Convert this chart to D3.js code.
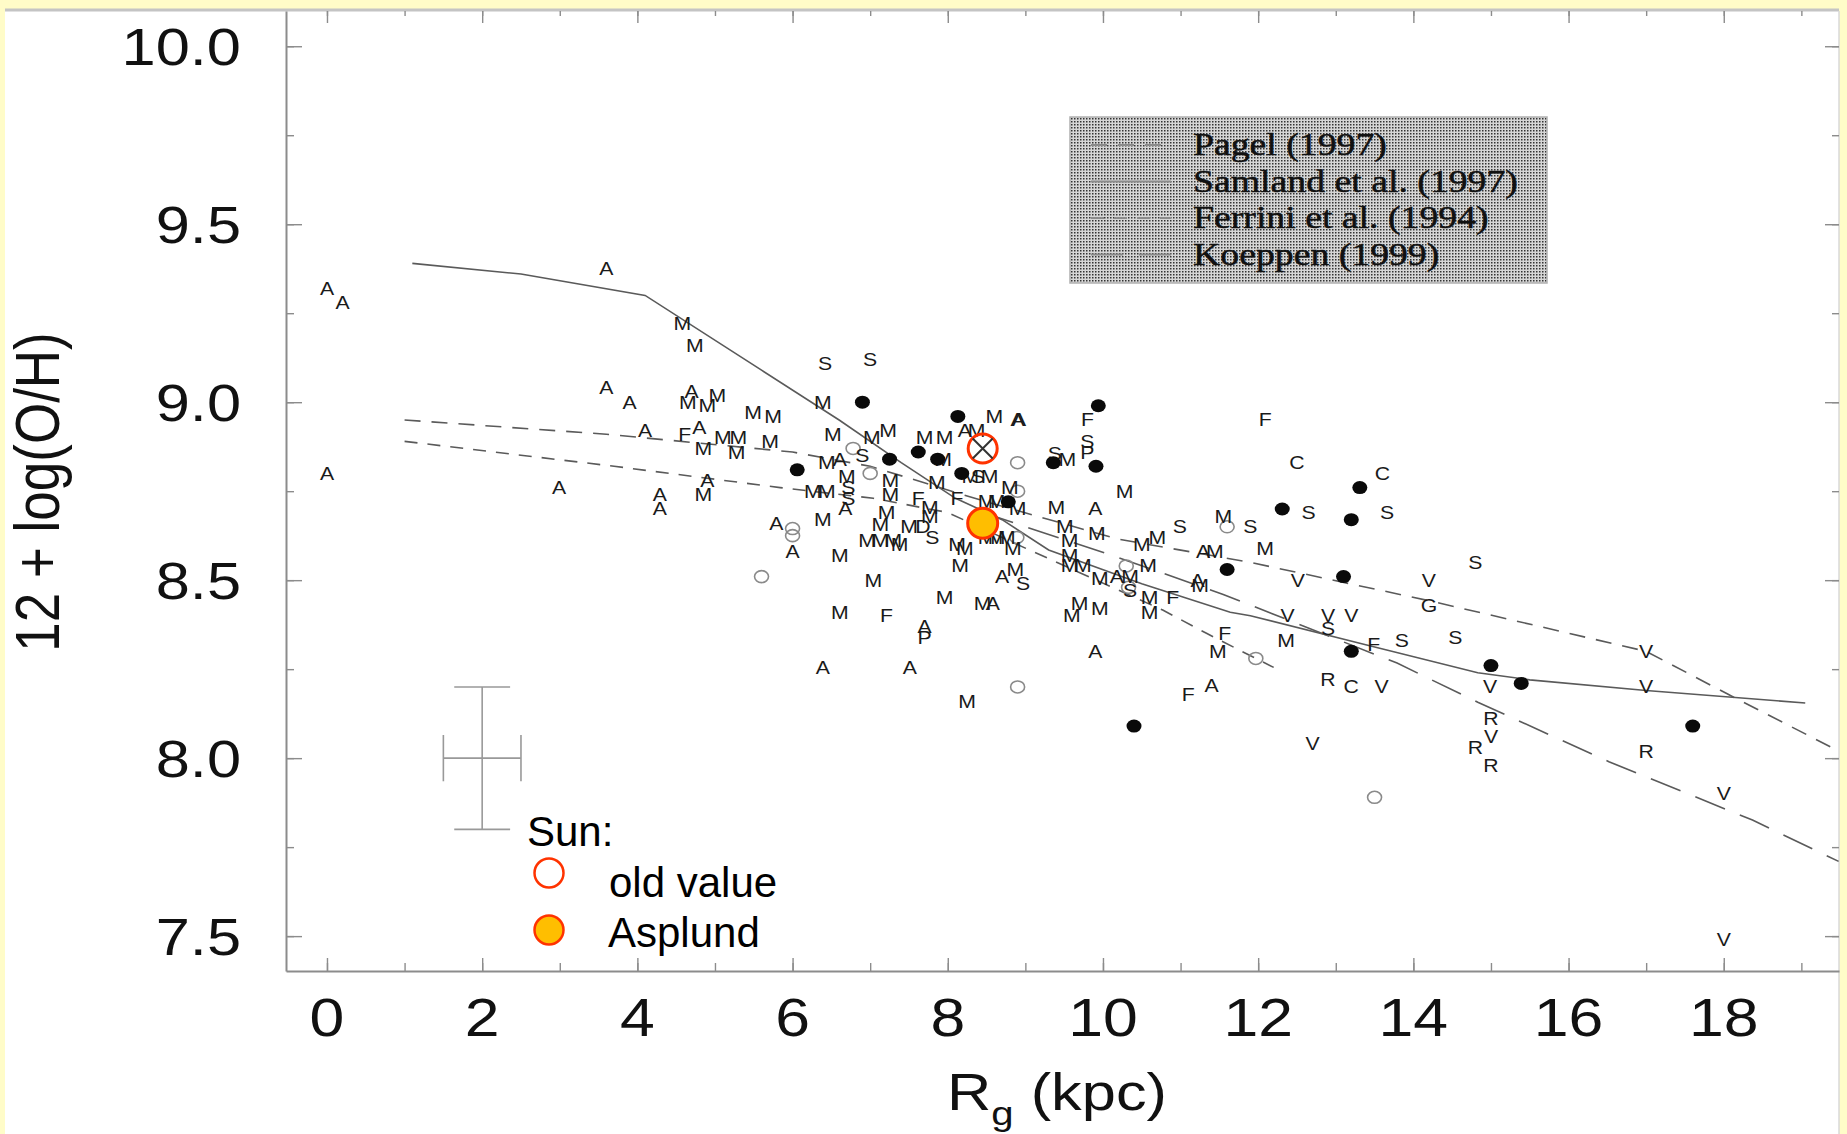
<!DOCTYPE html>
<html>
<head>
<meta charset="utf-8">
<script src="https://cdnjs.cloudflare.com/ajax/libs/d3/7.8.5/d3.min.js"></script>
<style>
  html, body { margin: 0; padding: 0; background: #fffcc8; }
  svg { display: block; }
</style>
</head>
<body>
<svg id="chart" width="1847" height="1134"></svg>
<script>
// ---- data ----
var xTicks      = [0, 2, 4, 6, 8, 10, 12, 14, 16, 18],
    xMinorTicks = d3.range(0, 20),
    yTicks      = [7.5, 8.0, 8.5, 9.0, 9.5, 10.0],
    yMinorTicks = d3.range(7.5, 10.01, 0.25)

var legendLabels = ["Pagel (1997)", "Samland et al. (1997)", "Ferrini et al. (1994)", "Koeppen (1999)"]

var pagel   = [[1.0,8.95],[3.6,8.91],[6.0,8.86],[7.0,8.82],[8.5,8.72],[10.2,8.615],[11.9,8.55],[14.25,8.44],[17.0,8.30],[18.05,8.18],[19.48,8.02]]
var samland = [[1.1,9.39],[2.5,9.36],[4.1,9.30],[5.6,9.09],[6.6,8.95],[7.4,8.83],[8.1,8.73],[8.7,8.67],[9.3,8.585],[10.5,8.49],[11.64,8.41],[11.9,8.40],[13.36,8.32],[14.83,8.24],[15.5,8.22],[17.0,8.19],[19.05,8.155]]
var ferrini = [[1.0,8.89],[3.7,8.82],[5.84,8.76],[7.04,8.73],[8.0,8.69],[9.0,8.59],[10.77,8.416],[11.34,8.35],[11.97,8.28],[12.2,8.255]]
var koeppen = [[8.45,8.69],[10.18,8.565],[11.55,8.46],[11.9,8.43],[13.79,8.267],[14.83,8.157],[16.52,7.99],[18.37,7.826],[19.48,7.71]]

var filledDots = [[6.06,8.81],[6.9,9.0],[7.25,8.84],[7.62,8.86],[7.87,8.84],[8.13,8.96],[8.18,8.80],[8.78,8.72],
  [9.36,8.83],[9.91,8.82],[9.94,8.99],[11.6,8.53],[12.31,8.70],[13.1,8.51],[13.2,8.67],[13.31,8.76],[13.2,8.30],
  [15.0,8.26],[15.39,8.21],[17.6,8.09],[10.4,8.09]]

var openCircles = [[6.78,8.87],[7.0,8.80],[6.0,8.645],[6.0,8.625],[5.6,8.51],[8.9,8.83],[8.9,8.75],[8.89,8.62],
  [8.9,8.20],[10.3,8.54],[10.33,8.48],[11.6,8.65],[11.97,8.28],[13.5,7.89]]

var letterPoints = [
  [0,9.32,"A"],[0.2,9.28,"A"],[0,8.80,"A"],[3.6,9.375,"A"],[3.6,9.04,"A"],[3.9,9.0,"A"],[2.99,8.76,"A"],[4.1,8.92,"A"],
  [4.7,9.03,"A"],[4.8,8.93,"A"],[4.9,8.78,"A"],[4.29,8.74,"A"],[4.29,8.70,"A"],[5.79,8.66,"A"],[6.0,8.58,"A"],
  [6.61,8.84,"A"],[6.68,8.70,"A"],[8.22,8.92,"A"],[8.9,8.95,"A"],[8.92,8.95,"A"],[9.9,8.70,"A"],[8.7,8.51,"A"],
  [8.58,8.435,"A"],[7.7,8.37,"A"],[7.51,8.256,"A"],[6.39,8.256,"A"],[9.9,8.30,"A"],[10.18,8.51,"A"],[11.29,8.58,"A"],
  [11.22,8.50,"A"],[11.4,8.205,"A"],
  [4.58,9.22,"M"],[4.74,9.16,"M"],[4.65,9.0,"M"],[4.9,8.99,"M"],[5.03,9.02,"M"],[5.49,8.97,"M"],[5.75,8.96,"M"],
  [6.39,9.0,"M"],[4.85,8.87,"M"],[5.1,8.90,"M"],[5.3,8.90,"M"],[5.28,8.86,"M"],[5.71,8.89,"M"],[6.52,8.91,"M"],
  [7.02,8.90,"M"],[7.23,8.92,"M"],[6.44,8.83,"M"],[4.85,8.74,"M"],[6.7,8.79,"M"],[7.26,8.78,"M"],[6.26,8.75,"M"],
  [6.44,8.75,"M"],[7.26,8.74,"M"],[7.21,8.69,"M"],[6.39,8.67,"M"],[7.13,8.655,"M"],[6.96,8.61,"M"],[7.13,8.61,"M"],
  [7.3,8.61,"M"],[6.61,8.57,"M"],[7.04,8.50,"M"],[6.61,8.41,"M"],[8.6,8.96,"M"],[7.7,8.90,"M"],[7.96,8.90,"M"],
  [8.37,8.92,"M"],[7.94,8.84,"M"],[9.54,8.84,"M"],[8.29,8.79,"M"],[8.54,8.79,"M"],[7.86,8.775,"M"],[8.8,8.76,"M"],
  [10.28,8.75,"M"],[7.77,8.705,"M"],[8.5,8.72,"M"],[8.63,8.72,"M"],[8.9,8.70,"M"],[9.4,8.705,"M"],[11.55,8.68,"M"],
  [7.77,8.68,"M"],[7.5,8.65,"M"],[7.38,8.60,"M"],[9.51,8.65,"M"],[9.57,8.61,"M"],[9.92,8.63,"M"],[10.5,8.60,"M"],
  [10.7,8.62,"M"],[11.44,8.58,"M"],[8.12,8.60,"M"],[8.22,8.59,"M"],[8.5,8.62,"M"],[8.63,8.62,"M"],[8.76,8.62,"M"],
  [8.84,8.59,"M"],[8.16,8.54,"M"],[8.87,8.53,"M"],[7.96,8.45,"M"],[8.45,8.435,"M"],[8.25,8.16,"M"],[9.57,8.54,"M"],
  [9.74,8.54,"M"],[9.57,8.57,"M"],[9.96,8.505,"M"],[10.35,8.51,"M"],[10.58,8.54,"M"],[10.6,8.45,"M"],[10.6,8.41,"M"],
  [11.25,8.485,"M"],[9.7,8.435,"M"],[9.6,8.40,"M"],[9.96,8.42,"M"],[11.48,8.30,"M"],[12.09,8.59,"M"],[12.36,8.33,"M"],
  [6.42,9.11,"S"],[7.0,9.12,"S"],[6.9,8.85,"S"],[6.72,8.76,"S"],[6.72,8.73,"S"],[8.39,8.79,"S"],[9.38,8.857,"S"],
  [9.8,8.89,"S"],[7.8,8.62,"S"],[8.97,8.49,"S"],[10.35,8.47,"S"],[10.99,8.65,"S"],[11.9,8.65,"S"],[12.65,8.69,"S"],
  [13.66,8.69,"S"],[14.8,8.55,"S"],[12.9,8.365,"S"],[13.85,8.33,"S"],[14.54,8.34,"S"],
  [4.61,8.91,"F"],[9.8,8.95,"F"],[12.09,8.95,"F"],[7.62,8.73,"F"],[8.12,8.73,"F"],[7.21,8.40,"F"],[10.9,8.45,"F"],
  [11.57,8.35,"F"],[11.1,8.18,"F"],[13.49,8.32,"F"],
  [9.8,8.86,"P"],[7.7,8.34,"P"],[7.68,8.65,"D"],
  [12.5,8.83,"C"],[13.6,8.80,"C"],[13.2,8.20,"C"],[14.2,8.43,"G"],
  [12.51,8.50,"V"],[14.2,8.50,"V"],[12.38,8.40,"V"],[12.9,8.40,"V"],[13.2,8.40,"V"],[13.59,8.20,"V"],[14.99,8.20,"V"],
  [17.0,8.30,"V"],[17.0,8.20,"V"],[15.0,8.06,"V"],[12.7,8.04,"V"],[18.0,7.90,"V"],[18.0,7.49,"V"],
  [12.9,8.22,"R"],[15.0,8.11,"R"],[14.8,8.03,"R"],[15.0,7.98,"R"],[17.0,8.02,"R"]
]

var sunOld      = [8.45, 8.87],
    sunAsplund  = [8.45, 8.66],
    errorBar    = [2.0, 8.0, 0.5, 0.2]   // x, y, half-width in R, half-height in dex

// ---- setup ----
var plot = {left: 286, right: 1839, top: 11, bottom: 971},
    stretch = 1.18,
    sansFont = "'Liberation Sans', Arial, Helvetica, sans-serif",
    serifFont = "'Liberation Serif', 'Times New Roman', serif",
    axisGray = "#8c8c8c",
    lineGray = "#5a5a5a"

var svg = d3.select("#chart")

var x = d3.scaleLinear()
  .domain([-0.528, 19.485])
  .range([plot.left, plot.right])

var y = d3.scaleLinear()
  .domain([7.402, 10.099])
  .range([plot.bottom, plot.top])

// white panel with grey top edge
svg.append("rect")
  .attr("x", 5).attr("y", plot.top)
  .attr("width", plot.right - 5).attr("height", 1134 - plot.top)
  .attr("fill", "#ffffff")
svg.append("line")
  .attr("x1", 5).attr("x2", plot.right)
  .attr("y1", plot.top - 1).attr("y2", plot.top - 1)
  .attr("stroke", "#c4c4c4").attr("stroke-width", 3)
svg.append("line")
  .attr("x1", plot.right).attr("x2", plot.right)
  .attr("y1", plot.top).attr("y2", 1134)
  .attr("stroke", "#d8d8d8").attr("stroke-width", 1.5)

svg.append("defs").append("clipPath").attr("id", "plotclip")
  .append("rect")
  .attr("x", plot.left).attr("y", plot.top)
  .attr("width", plot.right - plot.left).attr("height", plot.bottom - plot.top)

var defs = svg.select("defs")
var pat = defs.append("pattern")
  .attr("id", "dots").attr("width", 3).attr("height", 3)
  .attr("patternUnits", "userSpaceOnUse")
pat.append("rect").attr("width", 3).attr("height", 3).attr("fill", "#d6d6d6")
pat.append("rect").attr("x", 1).attr("y", 1).attr("width", 1.5).attr("height", 1.5).attr("fill", "#333")

// stretched text helper (the original figure is wider than tall)
function stretchText(parent, px, py, str, size, anchor, family) {
  return parent.append("text")
    .attr("transform", "translate(" + px + "," + py + ") scale(" + stretch + ",1)")
    .attr("text-anchor", anchor)
    .attr("font-family", family || sansFont)
    .attr("font-size", size)
    .attr("fill", "#111")
    .text(str)
}

// ---- axes ----
function styleAxis(g) {
  g.selectAll("path").attr("stroke", axisGray).attr("stroke-width", 2)
  g.selectAll("line").attr("stroke", axisGray).attr("stroke-width", 1.4)
  g.selectAll("text").remove()
}

svg.append("g")
  .attr("transform", "translate(0," + plot.bottom + ")")
  .call(d3.axisBottom(x).tickValues(xMinorTicks).tickSizeInner(-8).tickSizeOuter(0).tickFormat(""))
  .call(styleAxis)
svg.append("g")
  .attr("transform", "translate(0," + plot.bottom + ")")
  .call(d3.axisBottom(x).tickValues(xTicks).tickSizeInner(-13).tickSizeOuter(0).tickFormat(""))
  .call(styleAxis)
  .call(g => g.select(".domain").remove())

svg.append("g")
  .attr("transform", "translate(0," + plot.top + ")")
  .call(d3.axisTop(x).tickValues(xMinorTicks).tickSizeInner(-5).tickSizeOuter(0).tickFormat(""))
  .call(styleAxis)
  .call(g => g.select(".domain").remove())
svg.append("g")
  .attr("transform", "translate(0," + plot.top + ")")
  .call(d3.axisTop(x).tickValues(xTicks).tickSizeInner(-12).tickSizeOuter(0).tickFormat(""))
  .call(styleAxis)
  .call(g => g.select(".domain").remove())

svg.append("g")
  .attr("transform", "translate(" + plot.left + ",0)")
  .call(d3.axisLeft(y).tickValues(yMinorTicks).tickSizeInner(-8).tickSizeOuter(0).tickFormat(""))
  .call(styleAxis)
svg.append("g")
  .attr("transform", "translate(" + plot.left + ",0)")
  .call(d3.axisLeft(y).tickValues(yTicks).tickSizeInner(-16).tickSizeOuter(0).tickFormat(""))
  .call(styleAxis)
  .call(g => g.select(".domain").remove())

svg.append("g")
  .attr("transform", "translate(" + plot.right + ",0)")
  .call(d3.axisRight(y).tickValues(yMinorTicks).tickSizeInner(-7).tickSizeOuter(0).tickFormat(""))
  .call(styleAxis)
  .call(g => g.select(".domain").remove())
svg.append("g")
  .attr("transform", "translate(" + plot.right + ",0)")
  .call(d3.axisRight(y).tickValues(yTicks).tickSizeInner(-14).tickSizeOuter(0).tickFormat(""))
  .call(styleAxis)
  .call(g => g.select(".domain").remove())

// tick labels
var labels = svg.append("g")
xTicks.forEach(v => stretchText(labels, x(v), 1036, String(v), 53, "middle"))
yTicks.forEach(v => stretchText(labels, 241, y(v), v.toFixed(1), 52, "end").attr("dy", "0.36em"))

// axis titles
var xt = stretchText(svg, 1057, 1110, "", 52, "middle")
xt.append("tspan").text("R")
xt.append("tspan").attr("font-size", 34).attr("dy", 15).text("g")
xt.append("tspan").attr("dy", -15).text(" (kpc)")

svg.append("text")
  .attr("transform", "translate(59,492) scale(" + stretch + ",1) rotate(-90)")
  .attr("text-anchor", "middle")
  .attr("font-family", sansFont)
  .attr("font-size", 53)
  .attr("fill", "#111")
  .text("12 + log(O/H)")

// ---- plot contents ----
var body = svg.append("g").attr("clip-path", "url(#plotclip)")

var line = d3.line()
  .x(d => x(d[0]))
  .y(d => y(d[1]))

var models = [
  {data: pagel,   dash: "16,11"},
  {data: samland, dash: null},
  {data: ferrini, dash: "13,10"},
  {data: koeppen, dash: "32,16"}
]

body.selectAll("path.model")
  .data(models)
  .join("path")
  .attr("class", "model")
  .attr("d", d => line(d.data))
  .attr("fill", "none")
  .attr("stroke", lineGray)
  .attr("stroke-width", 1.6)
  .attr("stroke-dasharray", d => d.dash)

// error bar
var eb = body.append("g")
  .attr("stroke", "#999").attr("stroke-width", 1.6).attr("fill", "none")
eb.append("line")
  .attr("x1", x(errorBar[0])).attr("x2", x(errorBar[0]))
  .attr("y1", y(errorBar[1] + errorBar[3])).attr("y2", y(errorBar[1] - errorBar[3]))
eb.append("line")
  .attr("x1", x(errorBar[0] - errorBar[2])).attr("x2", x(errorBar[0] + errorBar[2]))
  .attr("y1", y(errorBar[1])).attr("y2", y(errorBar[1]))
;[errorBar[1] + errorBar[3], errorBar[1] - errorBar[3]].forEach(v => {
  eb.append("line")
    .attr("x1", x(errorBar[0] - 0.36)).attr("x2", x(errorBar[0] + 0.36))
    .attr("y1", y(v)).attr("y2", y(v))
})
;[errorBar[0] - errorBar[2], errorBar[0] + errorBar[2]].forEach(v => {
  eb.append("line")
    .attr("x1", x(v)).attr("x2", x(v))
    .attr("y1", y(errorBar[1] + 0.065)).attr("y2", y(errorBar[1] - 0.065))
})

// open circles
body.selectAll("ellipse.open")
  .data(openCircles)
  .join("ellipse")
  .attr("class", "open")
  .attr("cx", d => x(d[0])).attr("cy", d => y(d[1]))
  .attr("rx", 7).attr("ry", 6)
  .attr("fill", "none").attr("stroke", "#8a8a8a").attr("stroke-width", 1.6)

// letter markers
body.selectAll("text.pt")
  .data(letterPoints)
  .join("text")
  .attr("class", "pt")
  .attr("transform", d => "translate(" + x(d[0]) + "," + y(d[1]) + ") scale(" + stretch + ",1)")
  .attr("text-anchor", "middle")
  .attr("dy", "0.36em")
  .attr("font-family", sansFont)
  .attr("font-size", 18)
  .attr("fill", "#1a1a1a")
  .text(d => d[2])

// filled dots
body.selectAll("ellipse.dot")
  .data(filledDots)
  .join("ellipse")
  .attr("class", "dot")
  .attr("cx", d => x(d[0])).attr("cy", d => y(d[1]))
  .attr("rx", 7.5).attr("ry", 6.5)
  .attr("fill", "#0a0a0a")

// sun: old value and Asplund
var sun = body.append("g")
sun.append("circle")
  .attr("cx", x(sunOld[0])).attr("cy", y(sunOld[1])).attr("r", 14.5)
  .attr("fill", "none").attr("stroke", "#ff3300").attr("stroke-width", 3)
sun.append("path")
  .attr("d", "M" + (x(sunOld[0]) - 10) + "," + (y(sunOld[1]) - 10) + "L" + (x(sunOld[0]) + 10) + "," + (y(sunOld[1]) + 10) +
             "M" + (x(sunOld[0]) + 10) + "," + (y(sunOld[1]) - 10) + "L" + (x(sunOld[0]) - 10) + "," + (y(sunOld[1]) + 10))
  .attr("stroke", "#333").attr("stroke-width", 2)
sun.append("circle")
  .attr("cx", x(sunAsplund[0])).attr("cy", y(sunAsplund[1])).attr("r", 15)
  .attr("fill", "#ffbe00").attr("stroke", "#ff3300").attr("stroke-width", 3)

// ---- model legend box ----
var lg = svg.append("g").attr("transform", "translate(1070,117)")
lg.append("rect")
  .attr("width", 477).attr("height", 166)
  .attr("fill", "url(#dots)")
  .attr("stroke", "#b0b0b0").attr("stroke-width", 1.5)
legendLabels.forEach((lab, i) => {
  var by = 38 + i * 36.5
  lg.append("line")
    .attr("x1", 21).attr("x2", 101)
    .attr("y1", by - 10).attr("y2", by - 10)
    .attr("stroke", "#8a8a8a").attr("stroke-width", 2)
    .attr("stroke-dasharray", models[i].dash)
  stretchText(lg, 123, by, lab, 32, "start", serifFont)
    .attr("stroke", "#111").attr("stroke-width", 0.5)
})

// ---- sun legend ----
var sl = svg.append("g")
sl.append("text")
  .attr("x", 527).attr("y", 846)
  .attr("font-family", sansFont).attr("font-size", 42).attr("fill", "#000")
  .text("Sun:")
sl.append("circle")
  .attr("cx", 549).attr("cy", 873).attr("r", 14.5)
  .attr("fill", "#fff").attr("stroke", "#ff3300").attr("stroke-width", 2.5)
sl.append("text")
  .attr("x", 609).attr("y", 897)
  .attr("font-family", sansFont).attr("font-size", 42).attr("fill", "#000")
  .text("old value")
sl.append("circle")
  .attr("cx", 549).attr("cy", 930).attr("r", 14.5)
  .attr("fill", "#ffbe00").attr("stroke", "#ff3300").attr("stroke-width", 2.5)
sl.append("text")
  .attr("x", 608).attr("y", 947)
  .attr("font-family", sansFont).attr("font-size", 42).attr("fill", "#000")
  .text("Asplund")
</script>
</body>
</html>
